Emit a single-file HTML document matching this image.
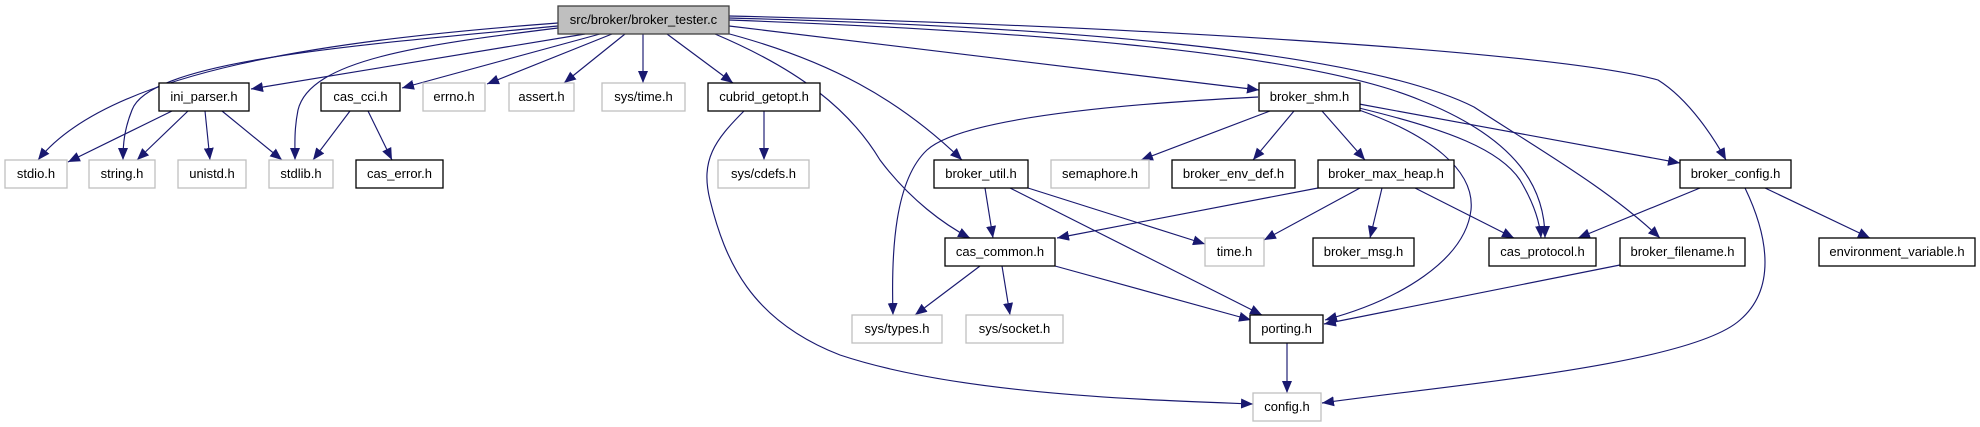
<!DOCTYPE html>
<html><head><meta charset="utf-8"><style>
html,body{margin:0;padding:0;background:#fff;}
svg{display:block;}
text{font-family:"Liberation Sans",sans-serif;font-size:13px;fill:#000;}
</style></head><body>
<svg width="1980" height="427" viewBox="0 0 1980 427" xmlns="http://www.w3.org/2000/svg">
<defs>
<marker id="a" markerUnits="userSpaceOnUse" markerWidth="14" markerHeight="10" refX="12" refY="5" orient="auto">
<path d="M0,0 L12,5 L0,10 Z" fill="#191970"/>
</marker>
</defs>
<g fill="none" stroke="#191970" stroke-width="1.15" marker-end="url(#a)">
<path d="M558,23 C330,40 110,70 38,160"/>
<path d="M558,26 C360,45 150,60 132,110 C124,130 123,145 123,160"/>
<path d="M558,28 C420,45 310,60 298,110 C294,130 295,145 295,160"/>
<path d="M585,34 L251,89"/>
<path d="M600,34 L402,88"/>
<path d="M612,34 L487,84"/>
<path d="M625,34 L564,83"/>
<path d="M643,34 L643,83"/>
<path d="M667,34 L733,83"/>
<path d="M715,34 C800,70 850,110 880,160 C910,200 945,225 970,238"/>
<path d="M722,32 C830,60 900,100 962,160"/>
<path d="M729,26 L1259,90"/>
<path d="M729,20 C1000,30 1300,50 1420,100 C1520,140 1545,190 1545,238"/>
<path d="M729,18 C1000,25 1350,45 1474,107 C1540,150 1610,190 1660,238"/>
<path d="M729,16 C1100,25 1550,50 1658,80 C1690,100 1715,140 1726,160"/>
<path d="M1258,97 C1100,105 960,120 927,150 C895,180 891,250 893,315"/>
<path d="M1270,111 L1141,160"/>
<path d="M1294,111 L1253,160"/>
<path d="M1322,111 L1365,160"/>
<path d="M1359,104 L1680,163"/>
<path d="M1359,108 C1450,130 1500,150 1520,180 C1535,205 1540,225 1541,238"/>
<path d="M1359,110 C1430,135 1475,170 1471,210 C1465,260 1400,300 1325,320"/>
<path d="M1318,188 L1057,238"/>
<path d="M1360,188 L1264,240"/>
<path d="M1382,188 L1370,238"/>
<path d="M1415,188 L1514,238"/>
<path d="M1700,188 L1578,238"/>
<path d="M1765,188 L1870,238"/>
<path d="M1745,188 C1770,240 1775,290 1740,320 C1690,365 1450,385 1322,403"/>
<path d="M1620,265 L1324,324"/>
<path d="M985,188 L993,238"/>
<path d="M1028,188 L1205,244"/>
<path d="M1010,188 L1262,315"/>
<path d="M980,266 L915,315"/>
<path d="M1002,266 L1010,315"/>
<path d="M1055,266 L1251,320"/>
<path d="M1287,343 L1287,393"/>
<path d="M764,111 L764,160"/>
<path d="M744,111 C715,140 700,160 710,200 C725,260 750,320 840,355 C960,395 1150,400 1253,404"/>
<path d="M172,111 L68,162"/>
<path d="M188,111 L137,160"/>
<path d="M205,111 L210,160"/>
<path d="M222,111 L282,160"/>
<path d="M350,111 L313,160"/>
<path d="M368,111 L392,160"/>
</g>
<g stroke-width="1.3">
<rect x="558" y="6" width="171" height="28" fill="#bfbfbf" stroke="#404040"/>
<g fill="#fff" stroke="#000">
<rect x="159" y="83" width="90" height="28"/>
<rect x="321" y="83" width="79" height="28"/>
<rect x="708" y="83" width="112" height="28"/>
<rect x="1259" y="83" width="101" height="28"/>
<rect x="356" y="160" width="87" height="28"/>
<rect x="934" y="160" width="94" height="28"/>
<rect x="1172" y="160" width="123" height="28"/>
<rect x="1318" y="160" width="136" height="28"/>
<rect x="1680" y="160" width="111" height="28"/>
<rect x="945" y="238" width="110" height="28"/>
<rect x="1313" y="238" width="101" height="28"/>
<rect x="1489" y="238" width="107" height="28"/>
<rect x="1620" y="238" width="125" height="28"/>
<rect x="1819" y="238" width="156" height="28"/>
<rect x="1250" y="315" width="73" height="28"/>
</g>
<g fill="#fff" stroke="#bfbfbf">
<rect x="423" y="83" width="62" height="28"/>
<rect x="509" y="83" width="65" height="28"/>
<rect x="602" y="83" width="83" height="28"/>
<rect x="5" y="160" width="62" height="28"/>
<rect x="89" y="160" width="66" height="28"/>
<rect x="178" y="160" width="68" height="28"/>
<rect x="269" y="160" width="64" height="28"/>
<rect x="718" y="160" width="91" height="28"/>
<rect x="1051" y="160" width="98" height="28"/>
<rect x="1205" y="238" width="59" height="28"/>
<rect x="852" y="315" width="90" height="28"/>
<rect x="966" y="315" width="97" height="28"/>
<rect x="1253" y="393" width="68" height="28"/>
</g>
</g>
<g text-anchor="middle">
<text x="643.5" y="24">src/broker/broker_tester.c</text>
<text x="204" y="101">ini_parser.h</text>
<text x="360.5" y="101">cas_cci.h</text>
<text x="454" y="101">errno.h</text>
<text x="541.5" y="101">assert.h</text>
<text x="643.5" y="101">sys/time.h</text>
<text x="764" y="101">cubrid_getopt.h</text>
<text x="1309.5" y="101">broker_shm.h</text>
<text x="36" y="178">stdio.h</text>
<text x="122" y="178">string.h</text>
<text x="212" y="178">unistd.h</text>
<text x="301" y="178">stdlib.h</text>
<text x="399.5" y="178">cas_error.h</text>
<text x="763.5" y="178">sys/cdefs.h</text>
<text x="981" y="178">broker_util.h</text>
<text x="1100" y="178">semaphore.h</text>
<text x="1233.5" y="178">broker_env_def.h</text>
<text x="1386" y="178">broker_max_heap.h</text>
<text x="1735.5" y="178">broker_config.h</text>
<text x="1000" y="256">cas_common.h</text>
<text x="1234.5" y="256">time.h</text>
<text x="1363.5" y="256">broker_msg.h</text>
<text x="1542.5" y="256">cas_protocol.h</text>
<text x="1682.5" y="256">broker_filename.h</text>
<text x="1897" y="256">environment_variable.h</text>
<text x="897" y="333">sys/types.h</text>
<text x="1014.5" y="333">sys/socket.h</text>
<text x="1286.5" y="333">porting.h</text>
<text x="1287" y="411">config.h</text>
</g>
</svg>
</body></html>
